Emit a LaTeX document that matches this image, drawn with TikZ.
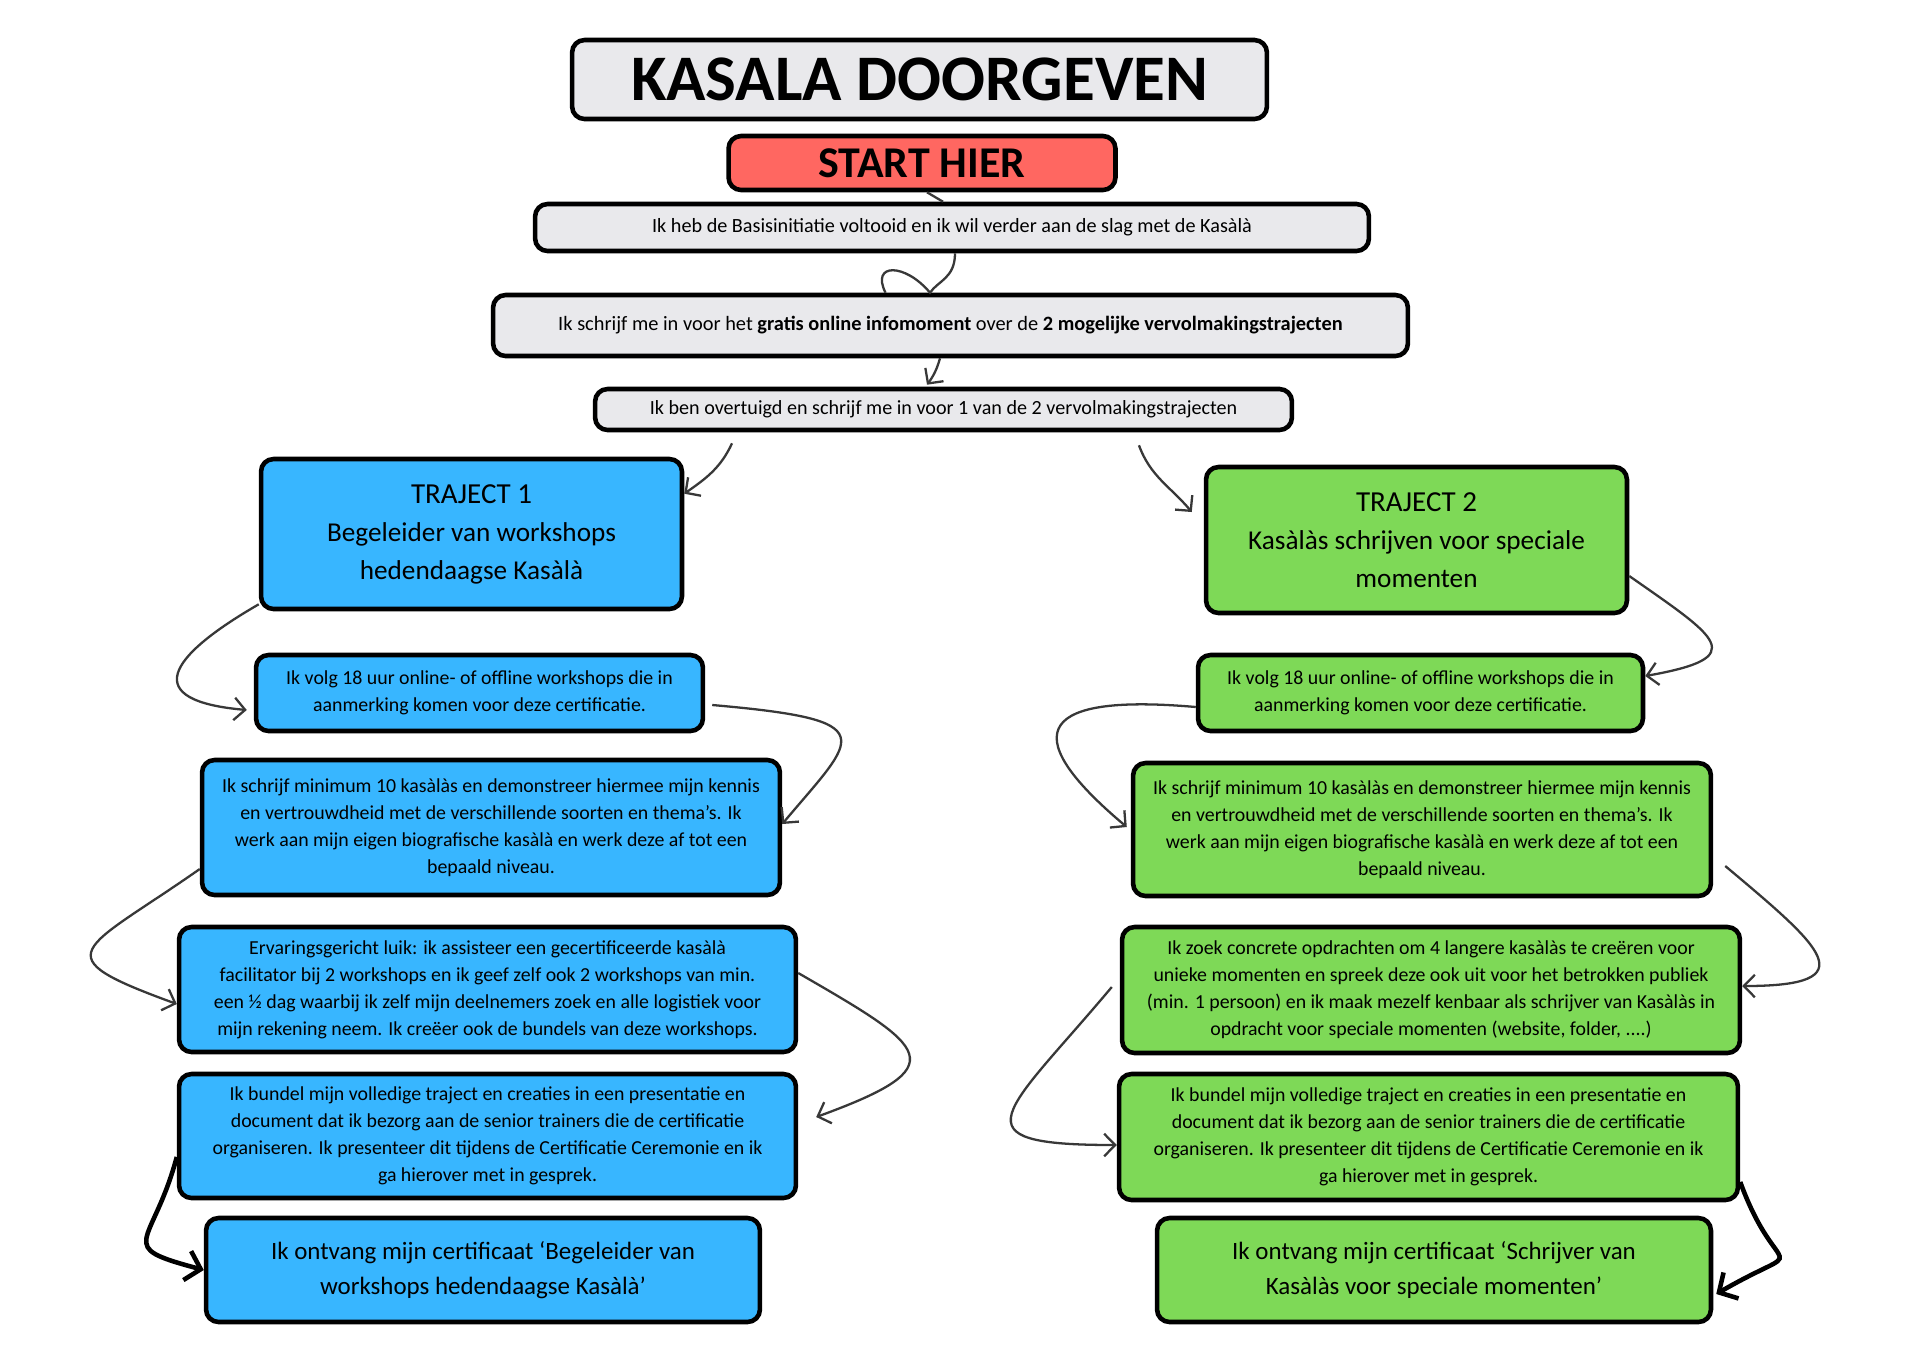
\documentclass[tikz,border=0pt]{standalone}
\usepackage{fontspec}
\setmainfont{Carlito}
\usetikzlibrary{arrows.meta}
\definecolor{BoxGray}{RGB}{233,233,236}
\definecolor{StartRed}{RGB}{255,103,97}
\definecolor{TrajBlue}{RGB}{56,182,255}
\definecolor{TrajGreen}{RGB}{126,217,87}
\definecolor{LinkGray}{RGB}{56,56,56}

\begin{document}
\begin{tikzpicture}[x=0.02cm,y=0.02cm,
  box/.style={draw=black,line width=2.6pt,rounded corners=0.25cm,inner sep=0pt,align=center},
  body/.style={font=\fontsize{11.3}{15.4}\selectfont},
  link/.style={LinkGray,line width=1.3pt,-{Straight Barb[length=0.22cm,width=0.45cm]}},
  heavy/.style={black,line width=2.6pt,-{Straight Barb[length=0.28cm,width=0.6cm]}}]
  \fill[white,use as bounding box] (0,0) rectangle (1920,-1357);
  % top of the chart
  \node[box,fill=BoxGray,minimum width=13.9cm,minimum height=1.58cm,font=\fontsize{37}{40}\selectfont\bfseries] (title) at (919.5,-79.5) {KASALA DOORGEVEN};
  \node[box,fill=StartRed,minimum width=7.74cm,minimum height=1.08cm,font=\fontsize{25}{26}\selectfont\bfseries] (start) at (922,-163) {START HIER};
  \node[box,fill=BoxGray,minimum width=16.68cm,minimum height=0.94cm,font=\fontsize{11.5}{12}\selectfont] (a1) at (952,-227.5) {Ik heb de Basisinitiatie voltooid en ik wil verder aan de slag met de Kasàlà};
  \node[box,fill=BoxGray,minimum width=18.3cm,minimum height=1.22cm,font=\fontsize{11.6}{12}\selectfont] (b) at (950.5,-325.5) {Ik schrijf me in voor het \textbf{gratis online infomoment} over de \textbf{2 mogelijke vervolmakingstrajecten}};
  \node[box,fill=BoxGray,minimum width=13.94cm,minimum height=0.82cm,font=\fontsize{11.45}{12}\selectfont] (c) at (943.5,-409.5) {Ik ben overtuigd en schrijf me in voor 1 van de 2 vervolmakingstrajecten};
  % traject 1
  \node[box,fill=TrajBlue,minimum width=8.42cm,minimum height=3cm,font=\fontsize{15.5}{21.6}\selectfont] (t1) at (471.5,-534) {{\fontsize{16.5}{21.6}\selectfont TRAJECT 1}\\Begeleider van workshops\\hedendaagse Kasàlà};
  \node[box,body,fill=TrajBlue,minimum width=8.94cm,minimum height=1.52cm] (l1) at (479.5,-693) {Ik volg 18 uur online- of offline workshops die in\\aanmerking komen voor deze certificatie.};
  \node[box,body,fill=TrajBlue,minimum width=11.56cm,minimum height=2.7cm] (l2) at (491,-827.5) {Ik schrijf minimum 10 kasàlàs en demonstreer hiermee mijn kennis\\en vertrouwdheid met de verschillende soorten en thema’s. Ik\\werk aan mijn eigen biografische kasàlà en werk deze af tot een\\bepaald niveau.};
  \node[box,body,fill=TrajBlue,minimum width=12.34cm,minimum height=2.5cm] (l3) at (487.5,-989.5) {Ervaringsgericht luik: ik assisteer een gecertificeerde kasàlà\\facilitator bij 2 workshops en ik geef zelf ook 2 workshops van min.\\een ½ dag waarbij ik zelf mijn deelnemers zoek en alle logistiek voor\\mijn rekening neem. Ik creëer ook de bundels van deze workshops.};
  \node[box,body,fill=TrajBlue,minimum width=12.34cm,minimum height=2.48cm] (l4) at (487.5,-1136) {Ik bundel mijn volledige traject en creaties in een presentatie en\\document dat ik bezorg aan de senior trainers die de certificatie\\organiseren. Ik presenteer dit tijdens de Certificatie Ceremonie en ik\\ga hierover met in gesprek.};
  \node[box,fill=TrajBlue,minimum width=11.08cm,minimum height=2.08cm,font=\fontsize{14.2}{19.5}\selectfont] (l5) at (483,-1270) {Ik ontvang mijn certificaat ‘Begeleider van\\workshops hedendaagse Kasàlà’};
  % traject 2
  \node[box,fill=TrajGreen,minimum width=8.42cm,minimum height=2.92cm,font=\fontsize{15.5}{21.6}\selectfont] (t2) at (1416.5,-540) {{\fontsize{16.5}{21.6}\selectfont TRAJECT 2}\\Kasàlàs schrijven voor speciale\\momenten};
  \node[box,body,fill=TrajGreen,minimum width=8.9cm,minimum height=1.52cm] (r1) at (1420.5,-693) {Ik volg 18 uur online- of offline workshops die in\\aanmerking komen voor deze certificatie.};
  \node[box,body,fill=TrajGreen,minimum width=11.56cm,minimum height=2.66cm] (r2) at (1422,-829.5) {Ik schrijf minimum 10 kasàlàs en demonstreer hiermee mijn kennis\\en vertrouwdheid met de verschillende soorten en thema’s. Ik\\werk aan mijn eigen biografische kasàlà en werk deze af tot een\\bepaald niveau.};
  \node[box,body,fill=TrajGreen,minimum width=12.36cm,minimum height=2.52cm] (r3) at (1431,-990) {Ik zoek concrete opdrachten om 4 langere kasàlàs te creëren voor\\unieke momenten en spreek deze ook uit voor het betrokken publiek\\(min. 1 persoon) en ik maak mezelf kenbaar als schrijver van Kasàlàs in\\opdracht voor speciale momenten (website, folder, ....)};
  \node[box,body,fill=TrajGreen,minimum width=12.38cm,minimum height=2.52cm] (r4) at (1428.5,-1137) {Ik bundel mijn volledige traject en creaties in een presentatie en\\document dat ik bezorg aan de senior trainers die de certificatie\\organiseren. Ik presenteer dit tijdens de Certificatie Ceremonie en ik\\ga hierover met in gesprek.};
  \node[box,fill=TrajGreen,minimum width=11.08cm,minimum height=2.08cm,font=\fontsize{14.2}{19.5}\selectfont] (r5) at (1434,-1270) {Ik ontvang mijn certificaat ‘Schrijver van\\Kasàlàs voor speciale momenten’};
  % connectors
  \draw[link,-] ([xshift=0.1cm]start.south) -- ([xshift=-0.18cm]a1.north);
  \draw[link,-] ([xshift=0.06cm]a1.south) .. controls +(0,-25) and +(8,12) .. ([xshift=-0.41cm]b.north)
    .. controls +(-25,30) and +(-15,30) .. ([xshift=-1.3cm]b.north);
  \draw[link] ([xshift=-0.21cm]b.south) to[bend left=10] ([xshift=-0.33cm,yshift=0.04cm]c.north);
  \draw[link] ([xshift=-4.23cm,yshift=-0.22cm]c.south) to[out=-115,in=35] ([yshift=-0.74cm]t1.north east);
  \draw[link] ([xshift=3.91cm,yshift=-0.26cm]c.south) to[out=-70,in=130] ([xshift=-0.24cm,yshift=0.56cm]t2.west);
  \draw[link] ([yshift=0.14cm]t1.south west) .. controls +(-150:107) and +(175:107) .. ([xshift=-0.14cm,yshift=-0.34cm]l1.west);
  \draw[link] ([xshift=0.14cm,yshift=-0.24cm]l1.east) .. controls +(-5:175) and +(50:115) .. ([yshift=0.07cm]l2.east);
  \draw[link] ([yshift=-0.83cm]l2.west) .. controls +(-145:145) and +(160:145) .. ([yshift=-0.29cm]l3.west);
  \draw[link] ([yshift=0.33cm]l3.east) .. controls +(-30:150) and +(20:150) .. ([xshift=0.36cm,yshift=0.38cm]l4.east);
  \draw[heavy] ([yshift=-0.42cm]l4.west) .. controls +(-105:94) and +(165:94) .. (l5.west);
  \draw[link] ([yshift=-0.72cm]t2.east) .. controls +(-35:108) and +(10:108) .. ([yshift=0.34cm]r1.east);
  \draw[link] ([yshift=-0.28cm]r1.west) .. controls +(175:152) and +(140:152) .. ([xshift=-0.08cm,yshift=0.05cm]r2.west);
  \draw[link] ([xshift=0.24cm,yshift=-0.73cm]r2.east) .. controls +(-40:126) and +(0:126) .. ([yshift=0.08cm]r3.east);
  \draw[link] ([xshift=-0.16cm,yshift=0.06cm]r3.west) .. controls +(-130:166) and +(180:166) .. ([yshift=-0.16cm]r4.west);
  \draw[heavy] ([yshift=-0.9cm]r4.east) .. controls +(-70:112) and +(30:112) .. ([xshift=0.06cm,yshift=-0.48cm]r5.east);
\end{tikzpicture}
\end{document}
